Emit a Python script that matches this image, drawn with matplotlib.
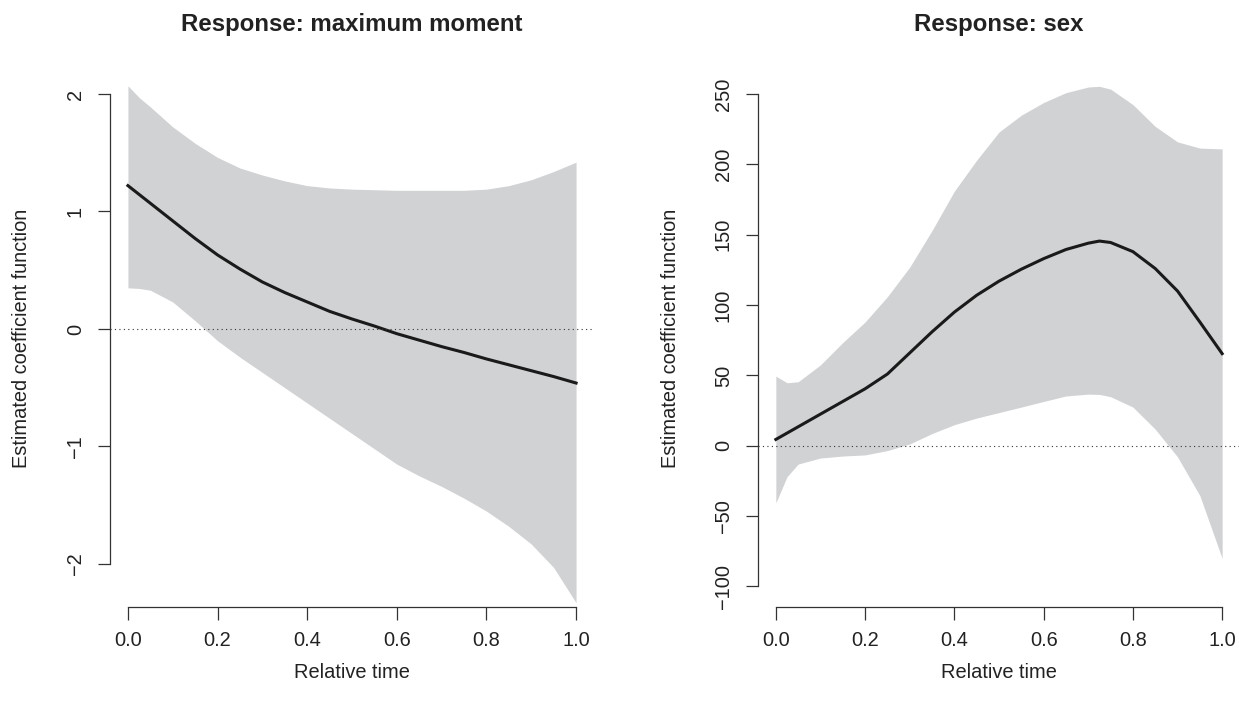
import numpy as np
import matplotlib
matplotlib.use("Agg")
import matplotlib.pyplot as plt
from matplotlib.ticker import FormatStrFormatter

plt.rcParams['font.family'] = ['Liberation Sans', 'DejaVu Sans']

# relative time grid
t = [0, 0.025, 0.05, 0.1, 0.15, 0.2, 0.25, 0.3, 0.35, 0.4, 0.45, 0.5,
     0.55, 0.6, 0.65, 0.7, 0.725, 0.75, 0.8, 0.85, 0.9, 0.95, 1.0]

# Response: maximum moment
mm_est = [1.22, 1.145, 1.07, 0.92, 0.77, 0.63, 0.51, 0.40, 0.31, 0.23, 0.15, 0.085,
          0.025, -0.04, -0.095, -0.15, -0.175, -0.20, -0.255, -0.305, -0.355, -0.405, -0.46]
mm_upper = [2.07, 1.97, 1.89, 1.72, 1.58, 1.46, 1.37, 1.31, 1.26, 1.22, 1.20, 1.19,
            1.185, 1.18, 1.18, 1.18, 1.18, 1.18, 1.19, 1.22, 1.27, 1.34, 1.42]
mm_lower = [0.35, 0.345, 0.33, 0.23, 0.07, -0.10, -0.24, -0.37, -0.50, -0.63, -0.76, -0.89,
            -1.02, -1.15, -1.25, -1.34, -1.39, -1.44, -1.55, -1.68, -1.83, -2.03, -2.33]

# Response: sex
sex_est = [4.5, 9, 13.5, 22.5, 31.5, 40.5, 51, 66, 81, 95, 107, 117,
           125.5, 133, 139.5, 144, 145.5, 144.5, 138, 126, 110, 88, 65.5]
sex_upper = [49.5, 44.8, 45.5, 57.5, 73.4, 88, 106, 127, 153, 181, 203, 223,
             235, 244, 251, 255, 255.5, 253.5, 242.5, 227, 216, 211.6, 211]
sex_lower = [-40.6, -22, -13, -8.7, -7.3, -6.5, -3.4, 1.3, 8.7, 15, 19.7, 23.6,
             27.5, 31.5, 35.4, 36.7, 36.5, 34.9, 27.5, 11.8, -7.9, -35.4, -80]

panels = [
    ("Response: maximum moment", mm_est, mm_lower, mm_upper,
     [-2, -1, 0, 1, 2], (-2.366, 2.204)),
    ("Response: sex", sex_est, sex_lower, sex_upper,
     [-100, -50, 0, 50, 100, 150, 200, 250], (-114.6, 267.1)),
]

W, H = 1239, 707
fig = plt.figure(figsize=(W / 100, H / 100), dpi=100)

lefts = [110, 758]
widths = [484, 482]
top, bottom = 70, 607
grey = '#d1d2d4'
ink = '#222222'

for i, (title, est, lo, up, yt, ylim) in enumerate(panels):
    ax = fig.add_axes([lefts[i] / W, (H - bottom) / H,
                       widths[i] / W, (bottom - top) / H])
    ax.fill_between(t, lo, up, color=grey, linewidth=0)
    ax.plot(t, est, color='#1a1a1a', lw=2.2)
    ax.axhline(0, color='#333333', lw=0.8, linestyle=(0, (1, 3)))
    ax.set_xlim(-0.04, 1.04)
    ax.set_ylim(*ylim)
    ax.set_xticks([0, 0.2, 0.4, 0.6, 0.8, 1.0])
    ax.xaxis.set_major_formatter(FormatStrFormatter('%.1f'))
    ax.set_yticks(yt)
    for s in ['top', 'right']:
        ax.spines[s].set_visible(False)
    ax.spines['left'].set_bounds(yt[0], yt[-1])
    ax.spines['bottom'].set_bounds(0, 1)
    for s in ['left', 'bottom']:
        ax.spines[s].set_color('#333333')
        ax.spines[s].set_linewidth(0.9)
    ax.tick_params(length=9, width=0.9, color='#333333', labelsize=14.4,
                   labelcolor=ink)
    ax.tick_params(axis='x', pad=8)
    ax.tick_params(axis='y', pad=9, labelrotation=90)
    plt.setp(ax.get_yticklabels(), va='center')

    cx = (lefts[i] + widths[i] / 2) / W
    fig.text(cx, 1 - 24 / H, title, ha='center', va='center',
             fontsize=17.3, fontweight='bold', color=ink)
    fig.text(cx, 1 - 672 / H, "Relative time", ha='center', va='center',
             fontsize=14.4, color=ink)
    fig.text((lefts[i] - 88) / W, 1 - 338 / H, "Estimated coefficient function",
             rotation=90, ha='center', va='center', fontsize=14.4, color=ink)

fig.savefig("out.png", dpi=100)
